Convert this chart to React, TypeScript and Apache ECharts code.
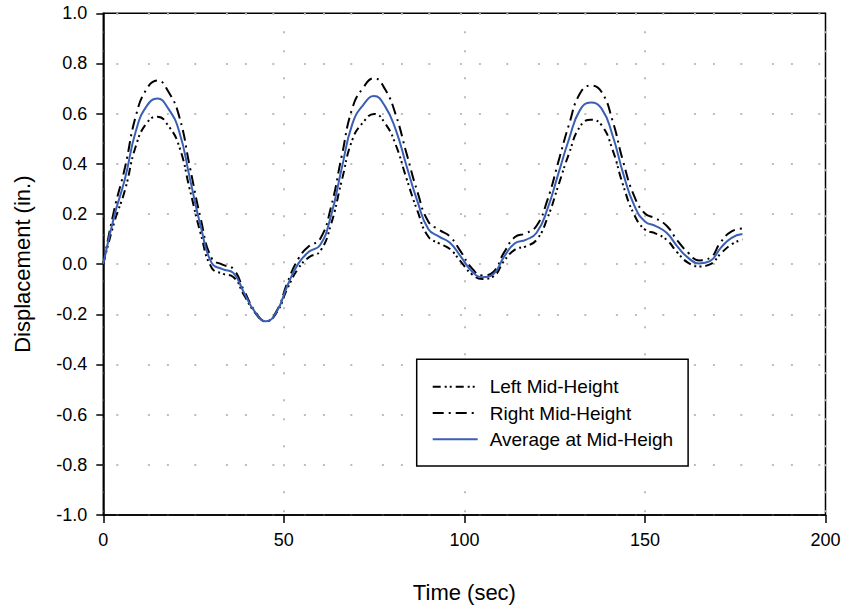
import React, { useEffect, useRef } from "react";
import * as echarts from "echarts";

const timeSec = [0, 3, 6, 9, 12, 15, 18, 21, 24, 27, 30, 33, 36, 39, 42, 45, 48, 51, 54, 57, 60, 63, 66, 69, 72, 75, 78, 81, 84, 87, 90, 93, 96, 99, 102, 105, 108, 111, 114, 117, 120, 123, 126, 129, 132, 135, 138, 141, 144, 147, 150, 153, 156, 159, 162, 165, 168, 171, 174, 177];

const leftMid = [0, 0.165, 0.295, 0.47, 0.562, 0.588, 0.552, 0.47, 0.295, 0.12, -0.014, -0.038, -0.051, -0.124, -0.193, -0.228, -0.193, -0.097, -0.017, 0.028, 0.051, 0.156, 0.331, 0.497, 0.566, 0.599, 0.562, 0.475, 0.34, 0.212, 0.11, 0.083, 0.06, 0.01, -0.039, -0.059, -0.049, 0.013, 0.058, 0.071, 0.097, 0.184, 0.313, 0.442, 0.548, 0.576, 0.554, 0.457, 0.313, 0.198, 0.138, 0.122, 0.097, 0.046, 0.005, -0.009, -0.001, 0.042, 0.079, 0.098];

const rightMid = [0, 0.215, 0.385, 0.59, 0.698, 0.732, 0.688, 0.59, 0.385, 0.18, 0.024, -0.002, -0.019, -0.106, -0.187, -0.228, -0.187, -0.073, 0.021, 0.072, 0.099, 0.224, 0.429, 0.623, 0.704, 0.741, 0.698, 0.595, 0.44, 0.288, 0.17, 0.137, 0.11, 0.05, -0.015, -0.045, -0.031, 0.047, 0.108, 0.123, 0.153, 0.256, 0.407, 0.558, 0.68, 0.712, 0.686, 0.573, 0.407, 0.272, 0.202, 0.182, 0.153, 0.094, 0.045, 0.015, 0.025, 0.088, 0.131, 0.142];

const averageMid = [0, 0.19, 0.34, 0.53, 0.63, 0.66, 0.62, 0.53, 0.34, 0.15, 0.005, -0.02, -0.035, -0.115, -0.19, -0.228, -0.19, -0.085, 0.002, 0.05, 0.075, 0.19, 0.38, 0.56, 0.635, 0.67, 0.63, 0.535, 0.39, 0.25, 0.14, 0.11, 0.085, 0.03, -0.027, -0.052, -0.04, 0.03, 0.083, 0.097, 0.125, 0.22, 0.36, 0.5, 0.614, 0.644, 0.62, 0.515, 0.36, 0.235, 0.17, 0.152, 0.125, 0.07, 0.025, 0.003, 0.012, 0.065, 0.105, 0.12];

const seriesNames = ["Left Mid-Height", "Right Mid-Height", "Average at Mid-Heigh"];
const xTitle = "Time (sec)";
const yTitle = "Displacement (in.)";

const FONT = "'Liberation Sans', Arial, sans-serif";

function pairs(ys: number[]) {
  return timeSec.map((t, i) => [t, ys[i]]);
}

export default function App() {
  const ref = useRef<HTMLDivElement>(null);
  useEffect(() => {
    if (!ref.current) return;
    const chart = echarts.init(ref.current, undefined, { renderer: "svg" });
    const gridDot = "#bdbdbd";
    chart.setOption({
      animation: false,
      backgroundColor: "#fff",
      grid: {
        left: 103.3,
        top: 13.3,
        right: 19.5,
        bottom: 91.3,
        show: true,
        borderColor: "#000",
        borderWidth: 1.5,
        backgroundColor: "transparent",
      },
      xAxis: {
        type: "value",
        min: 0,
        max: 200,
        interval: 50,
        name: xTitle,
        nameLocation: "middle",
        nameGap: 66,
        nameTextStyle: { fontFamily: FONT, fontSize: 22, color: "#000" },
        axisLine: { show: true, onZero: false, lineStyle: { color: "#000", width: 1.5 } },
        axisTick: { show: true, inside: false, length: 8, lineStyle: { color: "#000", width: 1.5 } },
        axisLabel: { margin: 16, fontFamily: FONT, fontSize: 18, color: "#000" },
        splitLine: {
          show: true,
          lineStyle: { color: gridDot, width: 2, type: [2, 17, 2, 25], dashOffset: 27.6 },
        },
      },
      yAxis: {
        type: "value",
        min: -1,
        max: 1,
        interval: 0.2,
        name: yTitle,
        nameLocation: "middle",
        nameGap: 70,
        nameTextStyle: { fontFamily: FONT, fontSize: 22, color: "#000" },
        axisLine: { show: true, onZero: false, lineStyle: { color: "#000", width: 1.5 } },
        axisTick: { show: true, inside: false, length: 7, lineStyle: { color: "#000", width: 1.5 } },
        axisLabel: {
          margin: 16,
          fontFamily: FONT,
          fontSize: 18,
          color: "#000",
          formatter: (v: number) => v.toFixed(1),
        },
        splitLine: {
          show: true,
          lineStyle: { color: gridDot, width: 2, type: [2, 29.6, 2, 17, 2, 25.4], dashOffset: 64.6 },
        },
      },
      legend: {
        left: 416.7,
        top: 359.3,
        orient: "vertical",
        itemWidth: 45,
        itemHeight: 14,
        itemGap: 6.3,
        padding: [17.4, 15, 16.7, 15],
        borderColor: "#000",
        borderWidth: 1.5,
        backgroundColor: "#fff",
        itemStyle: { color: "rgba(0,0,0,0)", borderWidth: 0, opacity: 0 },
        textStyle: { fontFamily: FONT, fontSize: 19, color: "#000", lineHeight: 20, padding: [0, 0, 0, 7] },
        data: seriesNames,
      },
      series: [
        {
          name: seriesNames[0],
          type: "line",
          data: pairs(leftMid),
          smooth: true,
          symbol: "none",
          z: 3,
          lineStyle: { color: "#000", width: 2, type: [8, 4, 2, 3, 2, 4] },
          itemStyle: { color: "#000" },
        },
        {
          name: seriesNames[1],
          type: "line",
          data: pairs(rightMid),
          smooth: true,
          symbol: "none",
          z: 3,
          lineStyle: { color: "#000", width: 2, type: [11, 5, 2, 5] },
          itemStyle: { color: "#000" },
        },
        {
          name: seriesNames[2],
          type: "line",
          data: pairs(averageMid),
          smooth: true,
          symbol: "none",
          z: 4,
          lineStyle: { color: "#3a5fb4", width: 2 },
          itemStyle: { color: "#3a5fb4" },
        },
      ],
    });
    return () => chart.dispose();
  }, []);
  return (
    <div
      ref={ref}
      style={{ position: "fixed", left: 0, top: 0, width: 845, height: 608, background: "#fff" }}
    />
  );
}
